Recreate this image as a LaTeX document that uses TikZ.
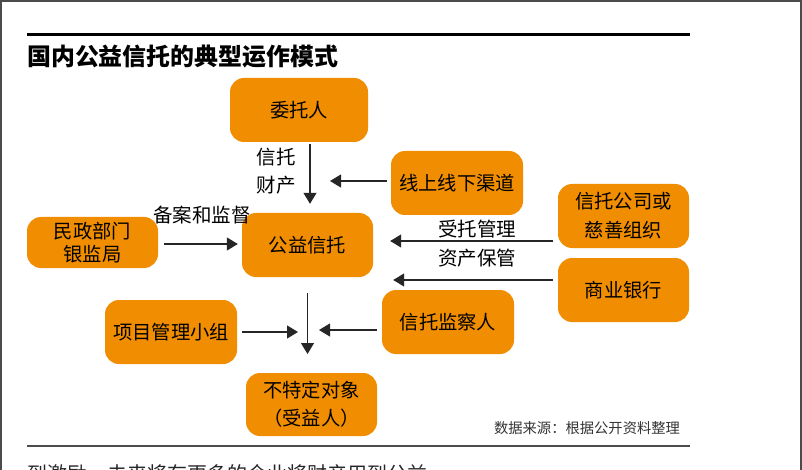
\documentclass[tikz,border=0pt]{standalone}
\usepackage{fontspec}
\setmainfont{Noto Sans CJK SC}
\usetikzlibrary{arrows.meta}
\definecolor{boxorange}{RGB}{240,141,0}
\definecolor{framegray}{RGB}{75,75,75}

\tikzset{
  box/.style={fill=boxorange, rounded corners=14pt, minimum width=132pt,
    minimum height=64pt, align=center, inner sep=0pt,
    font=\fontsize{19.3}{29}\selectfont},
  lbl/.style={inner sep=0pt, align=center, font=\fontsize{19.5}{28}\selectfont},
  arr/.style={line width=1.2pt, draw=black!85,
    -{Triangle[width=13pt,length=11pt]}},
}

\begin{document}
\begin{tikzpicture}[x=1pt,y=-1pt]
  \clip (0,0) rectangle (802,470);
  \fill[white] (0,0) rectangle (802,470);
  % frame and rules
  \draw[framegray,line width=2pt] (1,480) -- (1,1) -- (801,1) -- (801,480);
  \draw[black,line width=3pt] (27,35) -- (690,35);
  \draw[black!70,line width=1.3pt] (27,446) -- (690,446);
  \node[anchor=west,inner sep=0pt,font=\fontsize{23.9}{26}\selectfont\bfseries]
    (title) at (27,57) {国内公益信托的典型运作模式};

  % boxes
  \node[box,minimum width=138pt] (weituo) at (299,110) {委托人};
  \node[box] (qudao) at (457,183) {线上线下渠道};
  \node[box,minimum width=131pt] (xintuo) at (623.5,216) {信托公司或\\慈善组织};
  \node[box,minimum width=131pt,minimum height=51pt,
    font=\fontsize{19.3}{23}\selectfont] (minzheng) at (92.5,242.5) {民政部门\\银监局};
  \node[box,minimum width=131pt] (gongyi) at (307.5,245) {公益信托};
  \node[box,minimum width=131pt] (yinhang) at (623.5,290) {商业银行};
  \node[box] (xiangmu) at (171,332) {项目管理小组};
  \node[box] (jiancha) at (448,322) {信托监察人};
  \node[box,minimum width=131pt,minimum height=63pt,
    font=\fontsize{19.3}{28}\selectfont] (shouyi) at (311.5,404.5) {不特定对象\\（受益人）};

  % free ends
  \coordinate (topjoin) at (330,181);
  \coordinate (lowjoin) at (307,332);

  % connectors
  \draw[arr,shorten <=2pt,shorten >=9pt]
    ([xshift=11pt]weituo.south) -- ([xshift=11pt]weituo.south |- gongyi.north);
  \draw[arr] (qudao.west |- topjoin) ++(-4,0) -- (topjoin);
  \draw[arr,shorten <=6pt,shorten >=4pt] (minzheng.east |- 0,244) -- (gongyi.west |- 0,244);
  \draw[arr,shorten <=5pt,shorten >=17pt] (xintuo.west |- 0,241) -- (gongyi.east |- 0,241);
  \draw[arr,shorten <=5pt,shorten >=20pt] (xintuo.west |- 0,280) -- (gongyi.east |- 0,280);
  \draw[arr,shorten <=16pt] (gongyi.south) -- (gongyi.south |- 0,354);
  \draw[arr,shorten <=5pt] (xiangmu.east |- lowjoin) -- ([xshift=-9pt]lowjoin);
  \draw[arr,shorten <=5pt] (jiancha.west |- 0,330) -- ([xshift=12pt]lowjoin |- 0,330);

  % labels
  \node[lbl] (caichan) at (276,171) {信托\\财产};
  \node[lbl] (beian) at (202,215) {备案和监督};
  \node[lbl] (shoutuo) at (477,229) {受托管理};
  \node[lbl] (baoguan) at (477,258) {资产保管};
  \node[inner sep=0pt,text=black!80,font=\fontsize{14.3}{16}\selectfont]
    (source) at (587,428) {数据来源：根据公开资料整理};
  \node[anchor=west,inner sep=0pt,text=black!85,font=\fontsize{20}{22}\selectfont]
    (body) at (27,474) {到激励，未来将有更多的企业将财产用到公益};
\end{tikzpicture}
\end{document}
